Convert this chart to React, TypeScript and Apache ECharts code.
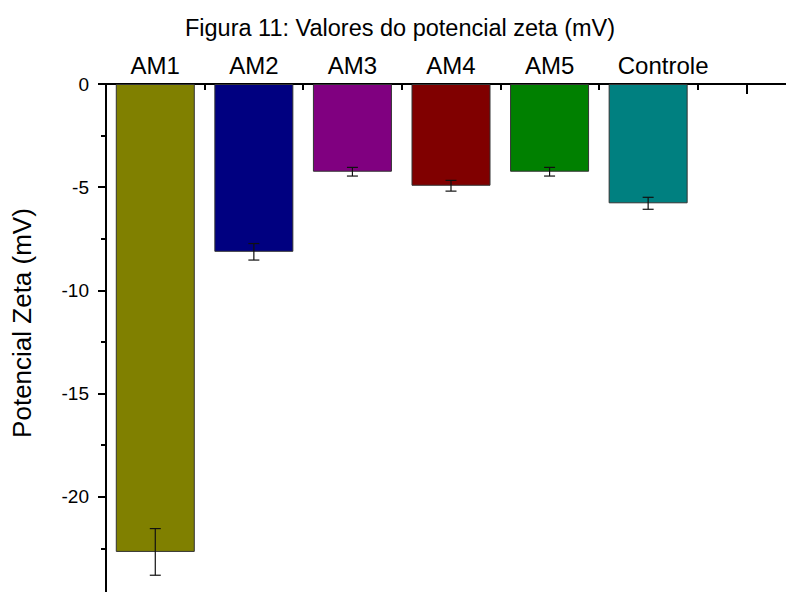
import React, { useEffect, useRef } from "react";
import * as echarts from "echarts";

const categories = ["AM1", "AM2", "AM3", "AM4", "AM5", "Controle", ""];
const zetaValues = [-22.67, -8.13, -4.25, -4.93, -4.25, -5.78];
const zetaErrors = [1.13, 0.4, 0.21, 0.26, 0.21, 0.29];
const barColors = ["#808000", "#000080", "#800080", "#800000", "#008000", "#008080"];
const titleText = "Figura 11: Valores do potencial zeta (mV)";
const yAxisTitle = "Potencial Zeta (mV)";

const FONT = "'Liberation Sans', Arial, sans-serif";

export default function App() {
  const ref = useRef<HTMLDivElement>(null);
  useEffect(() => {
    if (!ref.current) return;
    const chart = echarts.init(ref.current, null, { renderer: "svg" });
    const errData = zetaValues.map((v, i) => [i, v - zetaErrors[i], v + zetaErrors[i]]);
    chart.setOption({
      animation: false,
      backgroundColor: "#ffffff",
      title: {
        text: titleText,
        left: "center",
        top: 11,
        textStyle: { fontFamily: FONT, fontSize: 23.5, fontWeight: "normal", color: "#000" },
      },
      graphic: [
        {
          type: "text",
          x: 22,
          y: 323,
          rotation: Math.PI / 2,
          style: {
            text: yAxisTitle,
            fontFamily: FONT,
            fontSize: 26,
            fill: "#000",
            textAlign: "center",
            textVerticalAlign: "middle",
          },
        },
      ],
      grid: { left: 106, top: 84, width: 690, height: 516, containLabel: false },
      xAxis: [
        {
          type: "category",
          data: categories,
          position: "top",
          axisLine: { show: true, onZero: false, lineStyle: { color: "#000", width: 2 } },
          axisTick: { show: true, inside: true, alignWithLabel: true, length: 10, lineStyle: { color: "#000", width: 2 } },
          axisLabel: {
            fontFamily: FONT,
            fontSize: 24,
            color: "#000",
            margin: 7,
            interval: 0,
            formatter: (v: string) => (v === "Controle" ? "{c|" + v + "}" : v),
            rich: {
              c: { fontFamily: FONT, fontSize: 24, color: "#000", padding: [0, 0, 0, 30] },
            },
          },
          splitLine: { show: false },
        },
        {
          type: "category",
          data: categories,
          position: "top",
          axisLine: { show: false },
          axisTick: { show: true, inside: true, length: 6, interval: 0, lineStyle: { color: "#000", width: 2 } },
          axisLabel: { show: false },
          splitLine: { show: false },
        },
      ],
      yAxis: {
        type: "value",
        min: -25,
        max: 0,
        interval: 5,
        axisLine: { show: true, lineStyle: { color: "#000", width: 2 } },
        axisTick: { show: true, inside: false, length: 8, lineStyle: { color: "#000", width: 2 } },
        minorTick: { show: true, splitNumber: 2, length: 5, lineStyle: { color: "#000", width: 2 } },
        axisLabel: { fontFamily: FONT, fontSize: 19, color: "#000", margin: 17, showMinLabel: false },
        splitLine: { show: false },
      },
      series: [
        {
          type: "bar",
          xAxisIndex: 0,
          barWidth: 79,
          data: zetaValues.map((v, i) => ({
            value: v,
            itemStyle: { color: barColors[i], borderColor: "#333", borderWidth: 1 },
          })),
        },
        {
          type: "custom",
          xAxisIndex: 0,
          data: errData,
          z: 10,
          renderItem: (params: any, api: any) => {
            const x = api.value(0);
            const lo = api.coord([x, api.value(1)]);
            const hi = api.coord([x, api.value(2)]);
            const hw = 5.5;
            const style = { stroke: "#111", lineWidth: 1.2 };
            return {
              type: "group",
              children: [
                { type: "line", shape: { x1: lo[0], y1: lo[1], x2: hi[0], y2: hi[1] }, style },
                { type: "line", shape: { x1: lo[0] - hw, y1: lo[1], x2: lo[0] + hw, y2: lo[1] }, style },
                { type: "line", shape: { x1: hi[0] - hw, y1: hi[1], x2: hi[0] + hw, y2: hi[1] }, style },
              ],
            };
          },
        },
      ],
    });
    return () => chart.dispose();
  }, []);
  return (
    <div style={{ position: "fixed", left: 0, top: 0, width: 786, height: 592, overflow: "hidden", background: "#fff" }}>
      <div ref={ref} style={{ width: 800, height: 600 }} />
    </div>
  );
}
